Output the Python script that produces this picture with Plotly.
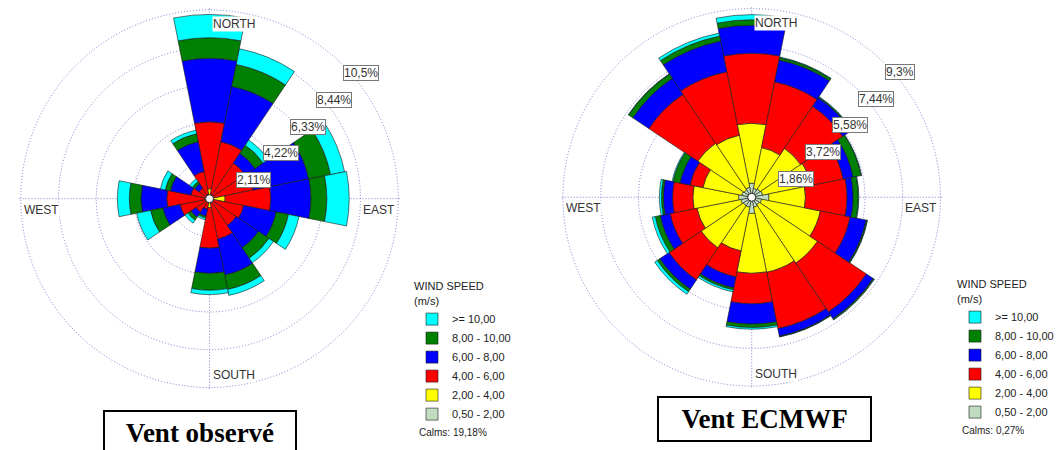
import math
import plotly.graph_objects as go

# 16 compass sectors, clockwise from north (degrees)
directions = [0, 22.5, 45, 67.5, 90, 112.5, 135, 157.5,
              180, 202.5, 225, 247.5, 270, 292.5, 315, 337.5]

speed_classes = ["0,50 - 2,00", "2,00 - 4,00", "4,00 - 6,00",
                 "6,00 - 8,00", "8,00 - 10,00", ">= 10,00"]
class_colors = ["#C0DCC0", "#FFFF00", "#FF0000", "#0000FF", "#008000", "#00FFFF"]

# Observed wind: frequency (%) per sector for each speed class
obs_0p5_2 = [0.10, 0.05, 0.05, 0.05, 0.10, 0.05, 0.05, 0.05, 0.10, 0.05, 0.05, 0.05, 0.05, 0.05, 0.05, 0.05]
obs_2_4   = [0.45, 0.20, 0.15, 0.20, 0.77, 0.15, 0.15, 0.20, 0.40, 0.15, 0.15, 0.20, 0.25, 0.15, 0.15, 0.20]
obs_4_6   = [3.75, 3.00, 2.20, 2.25, 2.56, 1.75, 1.60, 2.05, 2.27, 0.40, 0.70, 1.43, 2.09, 0.86, 0.50, 1.30]
obs_6_8   = [3.55, 3.15, 0.65, 3.15, 2.24, 1.85, 1.50, 2.05, 1.41, 0.40, 0.35, 0.98, 1.44, 1.17, 0.30, 1.70]
obs_8_10  = [1.15, 1.25, 0.55, 1.25, 0.89, 0.70, 0.70, 0.82, 0.94, 0.10, 0.20, 0.70, 0.65, 0.29, 0.15, 0.45]
obs_10    = [1.30, 0.90, 0.35, 0.80, 1.25, 0.60, 0.30, 0.34, 0.24, 0.10, 0.20, 0.79, 0.67, 0.28, 0.19, 0.20]

# ECMWF wind: frequency (%) per sector for each speed class
ecm_0p5_2 = [0.70, 0.45, 0.50, 0.55, 0.85, 0.50, 0.45, 0.50, 0.80, 0.50, 0.50, 0.55, 0.65, 0.50, 0.45, 0.50]
ecm_2_4   = [2.95, 2.05, 2.40, 2.45, 1.80, 2.95, 3.45, 3.27, 2.95, 2.20, 2.50, 2.20, 2.25, 1.95, 2.75, 2.62]
ecm_4_6   = [3.45, 3.30, 2.50, 1.60, 2.05, 1.50, 2.90, 2.83, 1.50, 1.30, 1.90, 1.35, 1.00, 0.65, 2.90, 3.19]
ecm_6_8   = [1.38, 1.10, 0.50, 0.50, 0.30, 0.80, 0.40, 0.38, 1.00, 0.55, 0.55, 0.50, 0.45, 0.50, 0.95, 1.54]
ecm_8_10  = [0.27, 0.12, 0.05, 0.40, 0.25, 0.05, 0.05, 0.02, 0.17, 0.10, 0.15, 0.25, 0.10, 0.35, 0.25, 0.25]
ecm_10    = [0.25, 0.03, 0.02, 0.02, 0.03, 0.02, 0.02, 0.02, 0.08, 0.10, 0.15, 0.15, 0.10, 0.05, 0.02, 0.15]

obs_ticks = [2.11, 4.22, 6.33, 8.44, 10.55]
obs_tick_text = ["2,11%", "4,22%", "6,33%", "8,44%", "10,5%"]
ecm_ticks = [1.86, 3.72, 5.58, 7.44, 9.30]
ecm_tick_text = ["1,86%", "3,72%", "5,58%", "7,44%", "9,3%"]

compass_names = ["NORTH", "EAST", "SOUTH", "WEST"]
compass_theta = [0, 90, 180, 270]

obs_calms = "Calms: 19,18%"
ecm_calms = "Calms: 0,27%"

SANS = "Liberation Sans, Arial, sans-serif"
GRID = "#7c7cd2"
GRID_DASH = "1px,2px"
W, H = 1059, 450
R = 191                      # polar radius in px
obs_c = (209.5, 198.7)       # polar centres in px (from top-left)
ecm_c = (751.7, 197.3)

fig = go.Figure()


def add_rose(series, polar, legend):
    for name, color, values in zip(speed_classes, class_colors, series):
        fig.add_trace(go.Barpolar(
            r=values, theta=directions, width=22.5, name=name,
            marker=dict(color=color, line=dict(color="#1a1a1a", width=0.6)),
            subplot=polar, legend=legend,
        ))
    # calm circle at the centre
    fig.add_trace(go.Scatterpolar(
        r=[0], theta=[0], mode="markers", subplot=polar, showlegend=False,
        marker=dict(size=8, color="white", line=dict(color="#222", width=1)),
        hoverinfo="skip",
    ))


add_rose([obs_0p5_2, obs_2_4, obs_4_6, obs_6_8, obs_8_10, obs_10], "polar", "legend")
add_rose([ecm_0p5_2, ecm_2_4, ecm_4_6, ecm_6_8, ecm_8_10, ecm_10], "polar2", "legend2")


def polar_layout(center, rmax, ticks):
    return dict(
        domain=dict(x=[(center[0] - R) / W, (center[0] + R) / W],
                    y=[(H - center[1] - R) / H, (H - center[1] + R) / H]),
        bgcolor="white",
        barmode="stack",
        radialaxis=dict(
            range=[0, rmax], tickmode="array", tickvals=ticks,
            showticklabels=False, showline=False, ticks="",
            gridcolor=GRID, griddash=GRID_DASH, gridwidth=1,
        ),
        angularaxis=dict(
            direction="clockwise", rotation=90, tickmode="array",
            tickvals=compass_theta, showticklabels=False, ticks="",
            showline=False, gridcolor=GRID, griddash=GRID_DASH, gridwidth=1,
            layer="below traces",
        ),
    )


def to_paper(center, rmax, r, theta):
    """Position of (r, theta) of a polar subplot in paper coordinates."""
    px = R * r / rmax
    t = math.radians(theta)
    return (center[0] + px * math.sin(t)) / W, 1 - (center[1] - px * math.cos(t)) / H


def add_axis_labels(center, rmax, ticks, ticktext):
    # ring values, boxed, along the north-east diagonal
    for val, txt in zip(ticks, ticktext):
        x, y = to_paper(center, rmax, val, 45)
        fig.add_annotation(x=x, y=y, xref="paper", yref="paper", text=txt,
                           xanchor="left", yanchor="top", showarrow=False,
                           font=dict(family=SANS, size=12, color="#333"),
                           bgcolor="white", bordercolor="#777", borderwidth=1,
                           borderpad=0)
    # compass names just inside the outer ring
    outer = ticks[-1]
    spec = {"NORTH": ("left", "top", 2, -6), "EAST": ("right", "top", -2, -3),
            "SOUTH": ("left", "bottom", 2, 4), "WEST": ("left", "top", 2, -3)}
    for name, theta in zip(compass_names, compass_theta):
        xa, ya, dx, dy = spec[name]
        x, y = to_paper(center, rmax, outer, theta)
        fig.add_annotation(x=x, y=y, xref="paper", yref="paper", text=name,
                           xanchor=xa, yanchor=ya, xshift=dx, yshift=dy,
                           showarrow=False, bgcolor="white", borderpad=0,
                           font=dict(family=SANS, size=12, color="#333"))


# a little headroom so the outermost ring is still drawn as a grid circle
obs_rmax = obs_ticks[-1] * 1.012
ecm_rmax = ecm_ticks[-1] * 1.012
add_axis_labels(obs_c, obs_rmax, obs_ticks, obs_tick_text)
add_axis_labels(ecm_c, ecm_rmax, ecm_ticks, ecm_tick_text)

legend_style = dict(
    xanchor="left", yanchor="top", traceorder="reversed",
    font=dict(family=SANS, size=11, color="#222"),
    title=dict(text="WIND SPEED<br>(m/s)", font=dict(family=SANS, size=11, color="#222")),
    bgcolor="rgba(0,0,0,0)",
)

fig.update_layout(
    width=W, height=H,
    margin=dict(l=0, r=0, t=0, b=0),
    paper_bgcolor="white",
    polar=polar_layout(obs_c, obs_rmax, obs_ticks),
    polar2=polar_layout(ecm_c, ecm_rmax, ecm_ticks),
    legend=dict(x=412 / W, y=1 - 276 / H, **legend_style),
    legend2=dict(x=955 / W, y=1 - 274 / H, **legend_style),
    showlegend=True,
)

# calms and panel titles
fig.add_annotation(x=417 / W, y=1 - 432 / H, xref="paper", yref="paper",
                   xanchor="left", yanchor="middle", showarrow=False, text=obs_calms,
                   font=dict(family=SANS, size=10, color="#222"))
fig.add_annotation(x=960 / W, y=1 - 430 / H, xref="paper", yref="paper",
                   xanchor="left", yanchor="middle", showarrow=False, text=ecm_calms,
                   font=dict(family=SANS, size=10, color="#222"))

title_font = dict(family="Liberation Serif, Times New Roman, serif", size=27, color="black")
fig.add_annotation(x=200 / W, y=1 - 410 / H, xref="paper", yref="paper",
                   xanchor="center", yanchor="top", showarrow=False,
                   text="<b>Vent observé</b>", font=title_font,
                   bordercolor="black", borderwidth=2, borderpad=5, bgcolor="white",
                   width=180, height=32)
fig.add_annotation(x=764.5 / W, y=1 - 396 / H, xref="paper", yref="paper",
                   xanchor="center", yanchor="top", showarrow=False,
                   text="<b>Vent ECMWF</b>", font=title_font,
                   bordercolor="black", borderwidth=2, borderpad=5, bgcolor="white",
                   width=201, height=32)

fig.write_html("out.html")
